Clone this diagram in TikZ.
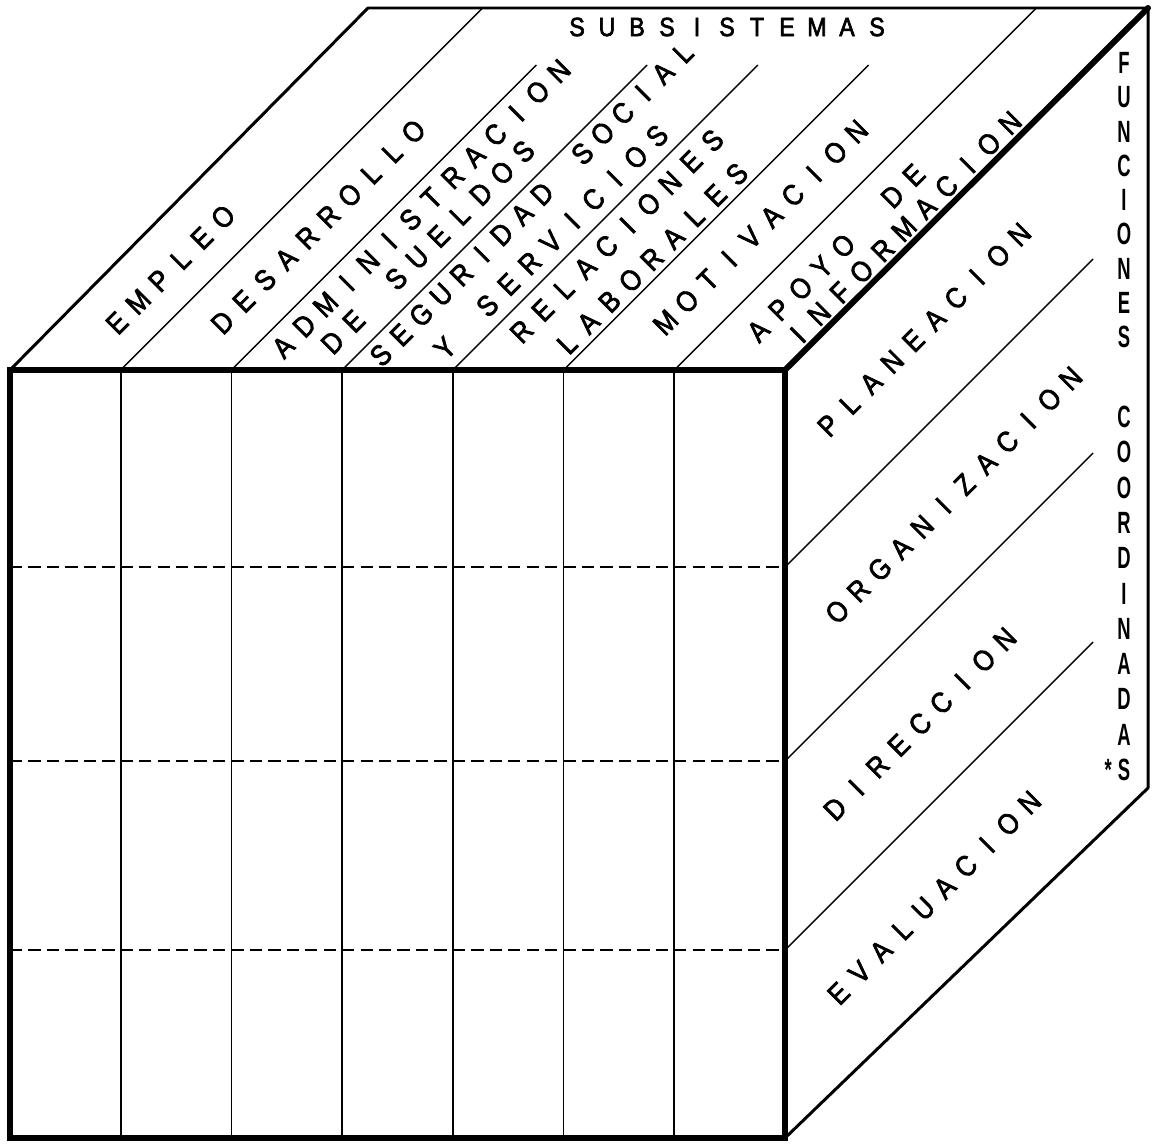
\documentclass[tikz,border=0pt]{standalone}
\usepackage{fontspec}
\setmainfont{Liberation Sans}[FakeStretch=0.88,FakeBold=2.5]
\newfontfamily\tallfont{Liberation Sans}[FakeStretch=0.6]
\usetikzlibrary{positioning}
\newlength\lpitch
\setlength\lpitch{0.6cm}
\makeatletter
\newcommand\spaced[1]{\@tfor\sp@c:=#1\do{\makebox[\lpitch][c]{\sp@c}}}
\makeatother

\begin{document}
\begin{tikzpicture}[x=0.02cm,y=-0.02cm,
    edge/.style={line width=1.7pt,line join=round},
    rim/.style={line width=3.4pt,line join=miter},
    cell/.style={line width=0.9pt},
    row/.style={line width=1.2pt,dash pattern=on 7pt off 3.5pt},
    band/.style={line width=0.8pt},
    lbl/.style={inner sep=0pt,rotate=45,font=\fontsize{16.5}{19}\selectfont},
    tall/.style={inner sep=0pt,font=\tallfont\bfseries\fontsize{17.5}{20}\selectfont}]
  \useasboundingbox (0,0) rectangle (1156,1143);
  \coordinate (ftl) at (10,370);
  \coordinate (ftr) at (785,370);
  \coordinate (fbr) at (785,1138);
  \coordinate (btl) at (368,8);
  \coordinate (btr) at (1148,8);
  \coordinate (bbr) at (1148,788);

  \draw[edge] (ftl) -- (btl) -- (btr) -- (bbr) -- (fbr);
  \draw[rim,line cap=round] (ftr) -- (btr);

  \foreach \i/\len in {1/362,2/305,3/305,4/305,5/305,6/362}
    \draw[band] ({10+\i*110.71},370) -- ++(\len,-\len);
  \foreach \y in {567,761,950}
    \draw[band] (785,\y) -- ++(308,-308);

  \foreach \i in {1,...,6}
    \draw[cell] ({10+\i*110.71},370) -- ({10+\i*110.71},1138);
  \foreach \y in {567,761,950}
    \draw[row] (10,\y) -- (785,\y);
  \draw[rim] (ftl) rectangle (fbr);

  \node[inner sep=0pt,font=\fontsize{15}{17}\selectfont] (subs) at (727,27) {\spaced{SUBSISTEMAS}};

  \node[lbl] (empleo) at (170,270) {\spaced{EMPLEO}};
  \node[lbl] (desarrollo) at (318,227) {\spaced{DESARROLLO}};
  \node[lbl] (admin) at (421,209) {\spaced{ADMINISTRACION}};
  \node[lbl] (sueldos) at (428,247) {\spaced{DE~SUELDOS}};
  \node[lbl] (seguridad) at (532,204) {\setlength\lpitch{0.57cm}\spaced{SEGURIDAD~SOCIAL}};
  \node[lbl] (servicios) at (551,242) {\spaced{Y~SERVICIOS}};
  \node[lbl] (relaciones) at (617,236) {\spaced{RELACIONES}};
  \node[lbl] (laborales) at (652,259) {\spaced{LABORALES}};
  \node[lbl] (motivacion) at (761,227) {\spaced{MOTIVACION}};
  \node[lbl] (apoyo) at (836,253) {\spaced{APOYO~}\hspace{0.2cm}\spaced{DE}};
  \node[lbl] (informacion) at (904,229) {\spaced{INFORMACION}};

  \node[lbl] (planeacion) at (924,330) {\spaced{PLANEACION}};
  \node[lbl] (organizacion) at (954,495) {\spaced{ORGANIZACION}};
  \node[lbl] (direccion) at (920,724) {\spaced{DIRECCION}};
  \node[lbl] (evaluacion) at (934,898) {\spaced{EVALUACION}};

  \foreach \ch [count=\i] in {F,U,N,C,I,O,N,E,S}
    \node[tall] (fun\i) at (1124,{63+34.25*(\i-1)}) {\ch};
  \foreach \ch [count=\i] in {C,O,O,R,D,I,N,A,D,A,S}
    \node[tall] (coo\i) at (1124,{417+35.3*(\i-1)}) {\ch};
  \node[tall,left=3pt of coo11] (star) {*};
\end{tikzpicture}
\end{document}
